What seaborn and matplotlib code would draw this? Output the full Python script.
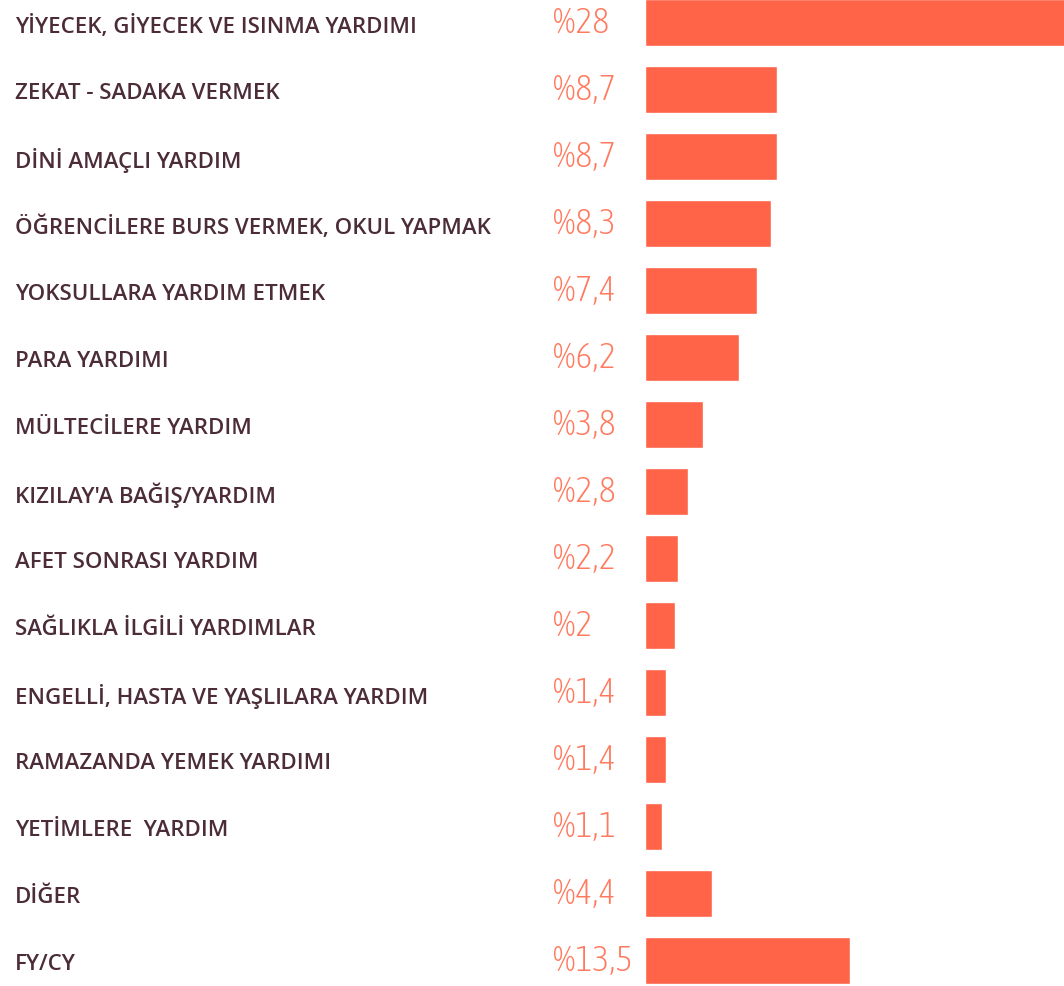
import matplotlib
matplotlib.use("Agg")
import matplotlib.pyplot as plt
import matplotlib.transforms as mtransforms
from matplotlib import font_manager
import seaborn as sns

# veriler
categories = [
    "YİYECEK, GİYECEK VE ISINMA YARDIMI",
    "ZEKAT - SADAKA VERMEK",
    "DİNİ AMAÇLI YARDIM",
    "ÖĞRENCİLERE BURS VERMEK, OKUL YAPMAK",
    "YOKSULLARA YARDIM ETMEK",
    "PARA YARDIMI",
    "MÜLTECİLERE YARDIM",
    "KIZILAY'A BAĞIŞ/YARDIM",
    "AFET SONRASI YARDIM",
    "SAĞLIKLA İLGİLİ YARDIMLAR",
    "ENGELLİ, HASTA VE YAŞLILARA YARDIM",
    "RAMAZANDA YEMEK YARDIMI",
    "YETİMLERE  YARDIM",
    "DİĞER",
    "FY/CY",
]
values = [28, 8.7, 8.7, 8.3, 7.4, 6.2, 3.8, 2.8, 2.2, 2, 1.4, 1.4, 1.1, 4.4, 13.5]

BAR_COLOR = "#FF6449"
PCT_COLOR = "#FF7A5E"
LABEL_COLOR = "#4B2C38"

sns.set_style("white")
plt.rcParams['font.family'] = ['Open Sans', 'DejaVu Sans']

# yüzde etiketleri için dar (condensed) bir font ara, yoksa Liberation Sans
narrow = [f for f in font_manager.fontManager.ttflist
          if ("condensed" in f.fname.lower() or "narrow" in f.fname.lower())
          and "bold" not in f.fname.lower() and "italic" not in f.fname.lower()
          and "oblique" not in f.fname.lower()]
light = [f for f in narrow if "light" in f.fname.lower()]
if light:
    narrow = light
if narrow:
    pct_font = font_manager.FontProperties(fname=narrow[0].fname, size=26)
else:
    pct_font = font_manager.FontProperties(family="Liberation Sans", size=20)

fig = plt.figure(figsize=(10.64, 9.87), dpi=100)
ax = fig.add_axes([645 / 1064, 0, 419 / 1064, 1])

sns.barplot(x=values, y=categories, orient="h", color=BAR_COLOR,
            width=0.7, saturation=1, ax=ax)

ax.set_xlim(0, 27.6)
ax.set_ylim(-0.35 + 987 / 67, -0.35)
ax.axis("off")

trans = mtransforms.blended_transform_factory(fig.transFigure, ax.transData)
label_trans = mtransforms.offset_copy(trans, fig=fig, y=-3, units="dots")
for i, (cat, val) in enumerate(zip(categories, values)):
    ax.text(15 / 1064, i, cat, transform=label_trans, ha="left", va="center",
            fontsize=16, fontweight="semibold", color=LABEL_COLOR, clip_on=False)
    pct = "%" + f"{val:g}".replace(".", ",")
    ax.text(553 / 1064, i, pct, transform=trans, ha="left", va="center",
            fontproperties=pct_font, color=PCT_COLOR, clip_on=False)

fig.savefig("out.png", dpi=100, facecolor="white")
plt.close(fig)
